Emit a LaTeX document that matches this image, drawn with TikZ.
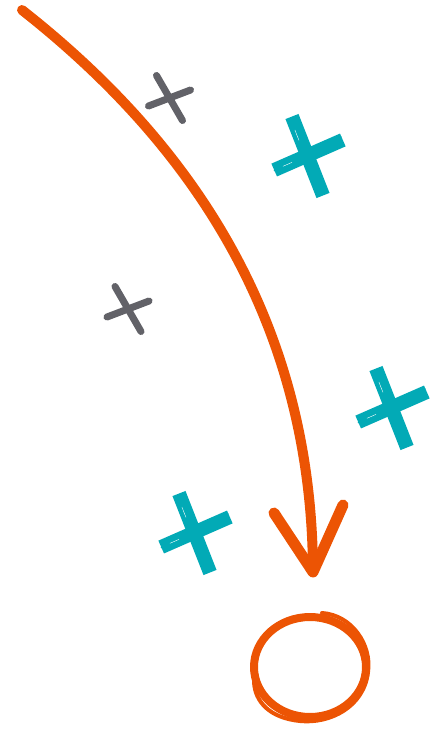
\documentclass[tikz,border=0pt]{standalone}
\usetikzlibrary{arrows.meta,calc}
\definecolor{flame}{RGB}{236,84,4}
\definecolor{slate}{RGB}{98,98,104}
\definecolor{lagoon}{RGB}{2,170,182}
\begin{document}
\begin{tikzpicture}[x=1pt, y=-1pt, line join=round, line cap=round]
	\tikzset{
	pen/.style={draw=flame, line width=10pt},
	thinmark/.pic={\draw[slate, line width=7pt] (-13,-22.5) -- (13,22.5);
	\draw[slate, line width=7pt] (-21,8) -- (21,-8);
	},
	brushmark/.pic={\foreach \a/\b/\c/\d in {-17/-42/16/42, -36/15/37/-17}{
	\draw[lagoon, line width=14pt, line cap=butt] ($(\a,\b)!.03!(\c,\d)$) -- ($(\a,\b)!.97!(\c,\d)$);
	\draw[lagoon, line width=3pt] ($(\a,\b)!.02!(\c,\d)+(4,2)$) -- ($(\a,\b)!.9!(\c,\d)+(4,2)$);
	\draw[lagoon, line width=3pt] ($(\a,\b)!.1!(\c,\d)+(-4,-2)$) -- ($(\a,\b)!.99!(\c,\d)+(-4,-2)$);
	\draw[lagoon, line width=2pt] ($(\a,\b)!.05!(\c,\d)+(-1,1)$) -- ($(\a,\b)!.95!(\c,\d)+(-1,1)$);
	\draw[white, line width=.4pt] ($(\a,\b)!.18!(\c,\d)+(-2,1)$) -- ($(\a,\b)!.3!(\c,\d)+(-2,1)$);
	}}
	}
	\useasboundingbox (0,0) rectangle (443,732);
	% grey marks
	\pic at (169.5,98) {thinmark};
	\pic at (128,309) {thinmark};
	% teal marks
	\pic at (308,156) {brushmark};
	\pic at (392,408) {brushmark};
	\pic at (195,533) {brushmark};
	% swing of the arrow
	\coordinate (start) at (22,10);
	\coordinate (tip) at (313,572);
	\draw[pen] (start) .. controls (200,150) and (312,330) .. (tip);
	\draw[pen, line width=11pt] (274,513) -- (tip) -- (343,505);
	% goal ring
	\draw[flame, line width=8pt] (310,667) ellipse [x radius=56, y radius=50];
	\draw[flame, line width=4pt] (322,613) .. controls (352,615) and (372,645) .. (368,672)
	.. controls (364,707) and (330,724) .. (300,721) .. controls (270,718) and (255,702) .. (254,682);
	\end{tikzpicture}
\end{document}
